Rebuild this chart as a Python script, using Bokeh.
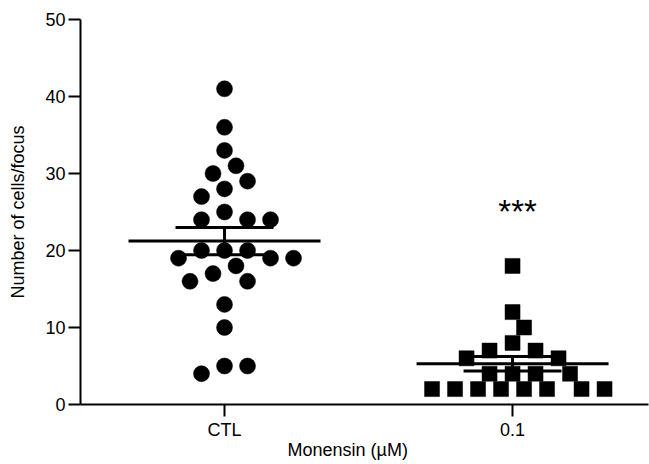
import numpy as np
from bokeh.plotting import figure
from bokeh.models import Range1d, FixedTicker, Label, Title
from bokeh.embed import file_html
from bokeh.resources import INLINE

# ---------------- data ----------------
categories = ["CTL", "0.1"]
ctl_values = [41, 36, 33, 31, 30, 29, 28, 27, 25, 24, 24, 24, 20, 20, 20,
              19, 19, 19, 18, 17, 16, 16, 13, 10, 5, 5, 4]
mon_values = [18, 12, 10, 8, 7, 7, 6, 6, 4, 4, 4, 4, 2, 2, 2, 2, 2, 2, 2, 2]
y_ticks = [0, 10, 20, 30, 40, 50]
significance = "***"
x_title = "Monensin (µM)"
y_title = "Number of cells/focus"

# ---------------- layout ----------------
FONT = "Liberation Sans"
W, H = 649, 464
BL, BR, BT, BB = 80, 1, 19, 60
X0, X1 = 0.5, 2.472
Y0, Y1 = 0, 50
frame_w = W - BL - BR
frame_h = H - BT - BB
px_x = frame_w / (X1 - X0)
px_y = frame_h / (Y1 - Y0)


def swarm(vals, slot_px=11.5, dmin=16.0):
    """Greedy beeswarm: horizontal offsets (data units) so markers don't overlap."""
    placed = []
    offs = []
    cands = [0]
    for i in range(1, 30):
        cands += [i, -i]
    for v in vals:
        yp = v * px_y
        for s in cands:
            xp = s * slot_px
            if all((xp - qx) ** 2 + (yp - qy) ** 2 >= dmin ** 2 for qx, qy in placed):
                break
        placed.append((xp, yp))
        offs.append(xp / px_x)
    return np.array(offs)


p = figure(width=W, height=H, output_backend="svg", toolbar_location=None,
           x_range=Range1d(X0, X1), y_range=Range1d(Y0, Y1),
           min_border_left=BL, min_border_right=BR,
           min_border_top=BT, min_border_bottom=BB)
p.outline_line_color = None
p.xgrid.visible = False
p.ygrid.visible = False
p.background_fill_color = "white"
p.border_fill_color = "white"

groups = [(1, ctl_values, "circle", 16), (2, mon_values, "square", 15)]
for xc, vals, marker, size in groups:
    vals = np.array(vals, dtype=float)
    xs = xc + swarm(vals)
    p.scatter(xs, vals, marker=marker, size=size, fill_color="black",
              line_color="black", line_width=0.5)
    mean = vals.mean()
    sem = vals.std(ddof=1) / np.sqrt(len(vals))
    hw_mean = 96 / px_x
    hw_cap = 49 / px_x
    p.segment(x0=[xc - hw_mean], y0=[mean], x1=[xc + hw_mean], y1=[mean],
              line_color="black", line_width=3)
    p.segment(x0=[xc - hw_cap, xc - hw_cap, xc], y0=[mean + sem, mean - sem, mean - sem],
              x1=[xc + hw_cap, xc + hw_cap, xc], y1=[mean + sem, mean - sem, mean + sem],
              line_color="black", line_width=3)

# axes
for ax in (p.xaxis[0], p.yaxis[0]):
    ax.axis_line_width = 2
    ax.axis_line_color = "black"
    ax.major_tick_line_width = 2
    ax.major_tick_line_color = "black"
    ax.major_tick_out = 12
    ax.major_tick_in = 0
    ax.minor_tick_out = 0
    ax.minor_tick_in = 0
    ax.major_label_text_font = FONT
    ax.major_label_text_font_size = "18px"
    ax.major_label_text_color = "black"
    ax.axis_label_text_font = FONT
    ax.axis_label_text_font_size = "18px"
    ax.axis_label_text_font_style = "normal"
    ax.axis_label_text_color = "black"

p.yaxis.ticker = FixedTicker(ticks=y_ticks)
p.yaxis.major_label_standoff = 3
p.yaxis.axis_label = y_title
p.yaxis.axis_label_standoff = 14

p.xaxis.ticker = FixedTicker(ticks=[1, 2])
p.xaxis.major_label_overrides = {i + 1: c for i, c in enumerate(categories)}
p.xaxis.major_label_standoff = 3

# x title (offset to the left as in the reference)
p.add_layout(Title(text=x_title, align="left", offset=207, standoff=-9,
                   text_font=FONT, text_font_size="18px",
                   text_font_style="normal", text_color="black"), "below")

# significance mark
p.add_layout(Label(x=2, y=25.06, x_offset=5, text=significance, text_font=FONT,
                   text_font_size="33px", text_align="center",
                   text_baseline="middle", text_color="black"))

open("out.html", "w").write(file_html(p, INLINE))
